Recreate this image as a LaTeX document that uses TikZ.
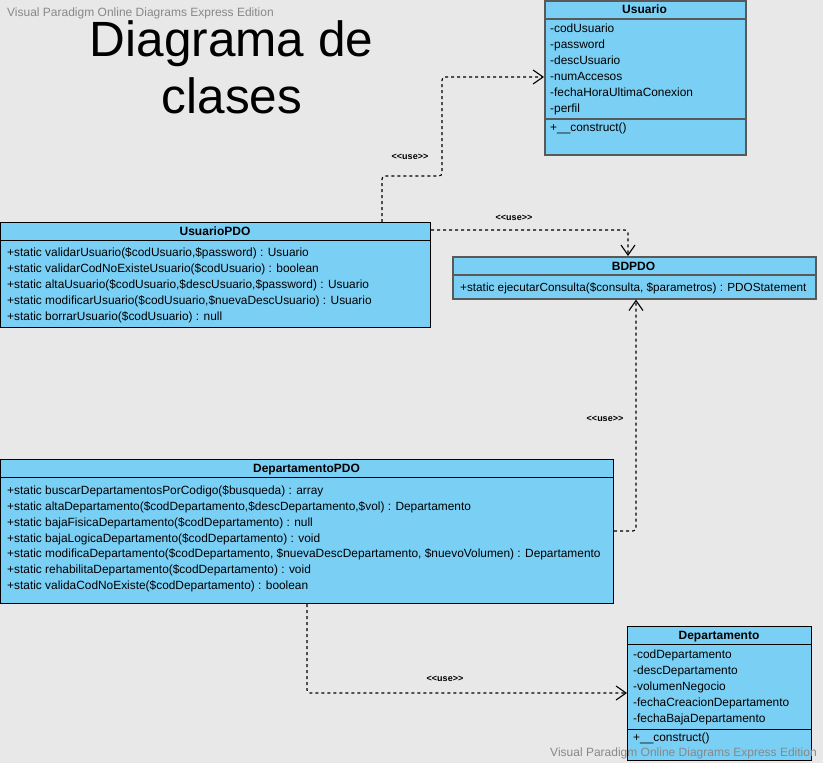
\documentclass[tikz,border=0pt]{standalone}
\usepackage{fontspec}
\setmainfont{Liberation Sans}
\usetikzlibrary{arrows.meta}
\definecolor{bgc}{RGB}{232,232,232}
\definecolor{clsfill}{RGB}{122,207,245}
\definecolor{wm}{RGB}{136,136,136}
\tikzset{
  clsbox/.style={draw=black, line width=1pt, fill=clsfill, anchor=north west, inner sep=0pt},
  greybox/.style={clsbox, draw=black!65, line width=1.6pt},
  sep/.style={draw=black, line width=1pt},
  greysep/.style={draw=black!65, line width=1.3pt},
  txt/.style={anchor=base west, inner sep=0pt, font=\fontsize{11.9}{14}\selectfont},
  hdr/.style={anchor=base, inner sep=0pt, font=\fontsize{12}{14}\selectfont\bfseries},
  dep/.style={draw=black, line width=1.1pt, dash pattern=on 3pt off 3pt, rounded corners=3pt,
    -{Straight Barb[length=10pt,width=14pt,line width=1.1pt]}},
  uselbl/.style={inner sep=0pt, font=\fontsize{9}{10}\selectfont\bfseries},
  wmark/.style={inner sep=0pt, text=wm, font=\fontsize{12}{14}\selectfont},
}
\begin{document}
\begin{tikzpicture}[x=1pt,y=-1pt]
\fill[bgc] (0,0) rectangle (823,763);
\useasboundingbox (0,0) rectangle (823,763);

% watermarks
\node[wmark, anchor=base west] (wm1) at (7,16) {Visual Paradigm Online Diagrams Express Edition};

% title
\node[inner sep=0pt, anchor=base, font=\fontsize{49.5}{58}\selectfont] (t1) at (231.5,56) {Diagrama de};
\node[inner sep=0pt, anchor=base, font=\fontsize{49.5}{58}\selectfont] (t2) at (232,113) {clases};

% Usuario
\node[greybox, minimum width=201pt, minimum height=154pt] (usuario) at (544,0) {};
\draw[greysep] (544,19) -- (745,19);
\draw[greysep] (544,119) -- (745,119);
\node[hdr] (uh) at (644.5,13) {Usuario};
\node[txt] (ua1) at (550,32) {-codUsuario};
\node[txt] (ua2) at (550,48) {-password};
\node[txt] (ua3) at (550,64) {-descUsuario};
\node[txt] (ua4) at (550,80) {-numAccesos};
\node[txt] (ua5) at (550,96) {-fechaHoraUltimaConexion};
\node[txt] (ua6) at (550,112) {-perfil};
\node[txt] (um1) at (550,131) {+\_\_construct()};

% UsuarioPDO
\node[clsbox, minimum width=430pt, minimum height=105pt] (upo) at (0,222) {};
\draw[sep] (0,240) -- (430,240);
\node[hdr] (uph) at (215,235) {UsuarioPDO};
\node[txt] (up1) at (7,256) {+static validarUsuario(\$codUsuario,\$password) : Usuario};
\node[txt] (up2) at (7,272) {+static validarCodNoExisteUsuario(\$codUsuario) : boolean};
\node[txt] (up3) at (7,288) {+static altaUsuario(\$codUsuario,\$descUsuario,\$password) : Usuario};
\node[txt] (up4) at (7,304) {+static modificarUsuario(\$codUsuario,\$nuevaDescUsuario) : Usuario};
\node[txt] (up5) at (7,320) {+static borrarUsuario(\$codUsuario) : null};

% BDPDO
\node[greybox, minimum width=363pt, minimum height=42pt] (bdpdo) at (452,256) {};
\draw[greysep] (452,275) -- (815,275);
\node[hdr] (bh) at (633.5,270) {BDPDO};
\node[txt, font=\fontsize{11.75}{14}\selectfont] (bm1) at (460,291) {+static ejecutarConsulta(\$consulta, \$parametros) : PDOStatement};

% DepartamentoPDO
\node[clsbox, minimum width=613pt, minimum height=144pt] (dpo) at (0,459) {};
\draw[sep] (0,477) -- (613,477);
\node[hdr] (dh) at (306.5,472) {DepartamentoPDO};
\node[txt] (dp1) at (7,494) {+static buscarDepartamentosPorCodigo(\$busqueda) : array};
\node[txt] (dp2) at (7,510) {+static altaDepartamento(\$codDepartamento,\$descDepartamento,\$vol) : Departamento};
\node[txt] (dp3) at (7,526) {+static bajaFisicaDepartamento(\$codDepartamento) : null};
\node[txt] (dp4) at (7,542) {+static bajaLogicaDepartamento(\$codDepartamento) : void};
\node[txt] (dp5) at (7,557) {+static modificaDepartamento(\$codDepartamento, \$nuevaDescDepartamento, \$nuevoVolumen) : Departamento};
\node[txt] (dp6) at (7,573) {+static rehabilitaDepartamento(\$codDepartamento) : void};
\node[txt] (dp7) at (7,589) {+static validaCodNoExiste(\$codDepartamento) : boolean};

% Departamento
\node[clsbox, minimum width=184pt, minimum height=134pt] (dep) at (627,626) {};
\draw[sep] (627,644) -- (811,644);
\draw[sep] (627,729) -- (811,729);
\node[hdr] (deh) at (719,639) {Departamento};
\node[txt] (da1) at (633,658) {-codDepartamento};
\node[txt] (da2) at (633,674) {-descDepartamento};
\node[txt] (da3) at (633,690) {-volumenNegocio};
\node[txt] (da4) at (633,706) {-fechaCreacionDepartamento};
\node[txt] (da5) at (633,722) {-fechaBajaDepartamento};
\node[txt] (dm1) at (633,741) {+\_\_construct()};

% bottom watermark
\node[wmark, anchor=base east] (wm2) at (817,756) {Visual Paradigm Online Diagrams Express Edition};

% connectors
\draw[dep] (upo.north -| 382,0) -- (382,176) -- (442,176) -- (442,77) -- (usuario.west |- 0,77);
\node[uselbl] (l1) at (410,157) {<{}<use>{}>};
\draw[dep] (upo.east |- 0,230) -- (628,230) -- (bdpdo.north -| 628,0);
\node[uselbl] (l2) at (514,218) {<{}<use>{}>};
\draw[dep] (dpo.east |- 0,531) -- (636,531) -- (bdpdo.south -| 636,0);
\node[uselbl] (l3) at (605,419) {<{}<use>{}>};
\draw[dep] (dpo.south -| 307,0) -- (307,693) -- (dep.west |- 0,693);
\node[uselbl] (l4) at (445,679) {<{}<use>{}>};
\end{tikzpicture}
\end{document}
